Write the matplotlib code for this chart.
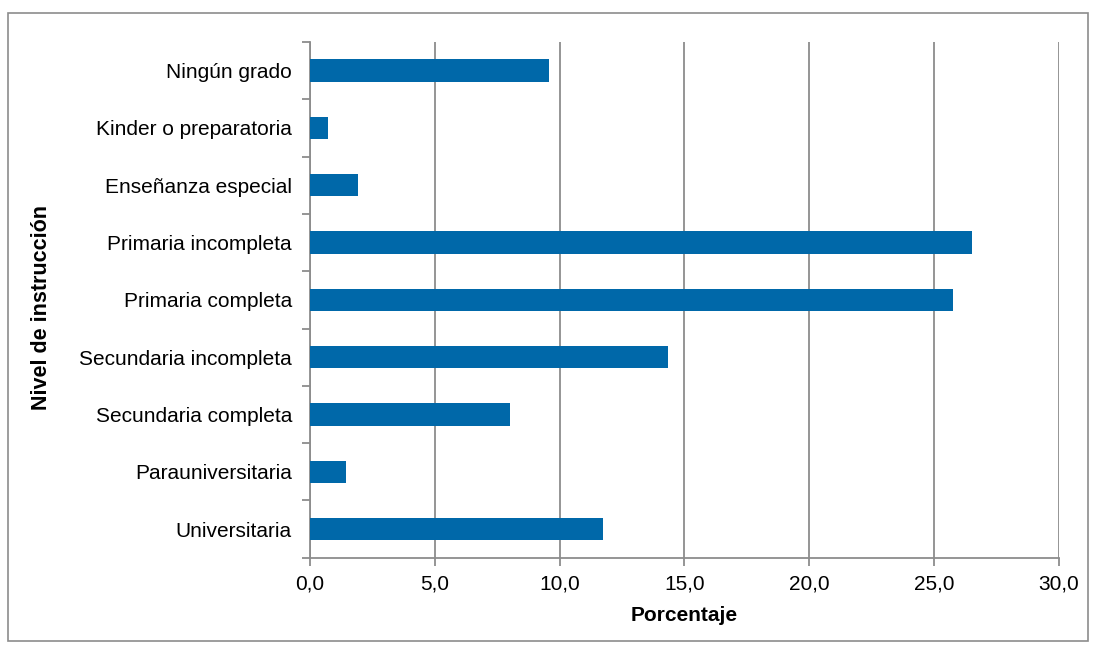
import matplotlib
matplotlib.use("Agg")
import matplotlib.pyplot as plt
from matplotlib.patches import Rectangle
from matplotlib.ticker import FixedLocator, NullFormatter

categories = ["Ningún grado", "Kinder o preparatoria", "Enseñanza especial",
              "Primaria incompleta", "Primaria completa", "Secundaria incompleta",
              "Secundaria completa", "Parauniversitaria", "Universitaria"]
values = [9.56, 0.71, 1.94, 26.51, 25.76, 14.34, 8.01, 1.44, 11.75]
xticks = [0, 5, 10, 15, 20, 25, 30]
xticklabels = ["0,0", "5,0", "10,0", "15,0", "20,0", "25,0", "30,0"]

plt.rcParams['font.family'] = ['Liberation Sans', 'DejaVu Sans']

W, H = 1096, 654
fig = plt.figure(figsize=(W/100, H/100), dpi=100)
fig.patches.append(Rectangle((8/W, 1-641/H), (1088-8)/W, (641-13)/H,
                             transform=fig.transFigure, fill=False,
                             edgecolor="#8c8c8c", linewidth=1.2))

ax = fig.add_axes([310/W, 1-557.7/H, (1058.7-310)/W, (557.7-42)/H])
n = len(categories)
ypos = list(range(n))
ax.barh(ypos, values, height=0.39, color="#0068A9", zorder=3)
ax.set_ylim(n-0.5, -0.5)
ax.set_xlim(0, 30)

ax.set_xticks(xticks)
ax.set_xticklabels(xticklabels, fontsize=15)
ax.set_yticks(ypos)
ax.set_yticklabels(categories, fontsize=15)
ax.tick_params(axis='y', which='major', length=0, pad=13)
ax.yaxis.set_minor_locator(FixedLocator([i-0.5 for i in range(n+1)]))
ax.yaxis.set_minor_formatter(NullFormatter())
ax.tick_params(axis='y', which='minor', length=6, width=1.3, color="#8c8c8c", direction='out')
ax.tick_params(axis='x', which='major', length=6, width=1.3, color="#8c8c8c", direction='out', pad=6)

ax.grid(axis='x', color="#8c8c8c", linewidth=1.3, zorder=0)
for s in ['top', 'right']:
    ax.spines[s].set_visible(False)
for s in ['left', 'bottom']:
    ax.spines[s].set_color("#8c8c8c")
    ax.spines[s].set_linewidth(1.3)

ax.set_xlabel("Porcentaje", fontsize=15, fontweight='bold', labelpad=9)
fig.text(42/W, 1-307/H, "Nivel de instrucción", rotation=90, fontsize=15.5,
         fontweight='bold', ha='center', va='center')

fig.savefig("out.png", dpi=100)
